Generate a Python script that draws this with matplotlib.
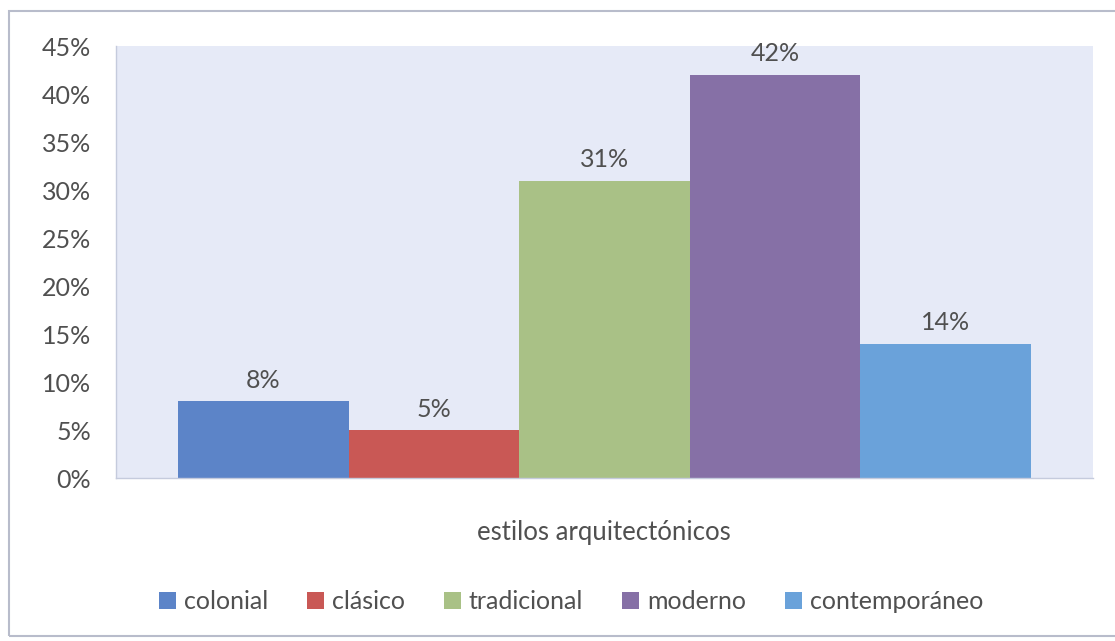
import numpy as np
import matplotlib.pyplot as plt
from matplotlib.patches import Rectangle
from matplotlib.ticker import FuncFormatter

# ==================== datos ====================
estilos = ['colonial', 'clásico', 'tradicional', 'moderno', 'contemporáneo']
porcentajes = [8, 5, 31, 42, 14]
colores = ['#5C84C8', '#C95855', '#A9C186', '#8670A6', '#6AA2DA']
y_ticks = list(range(0, 46, 5))

plt.rcParams['font.family'] = ['Lato', 'DejaVu Sans']
TXT = '#505050'

fig = plt.figure(figsize=(11.15, 6.41), dpi=100)
ax = fig.add_axes([0.104, 0.254, 0.876, 0.674])
ax.set_facecolor('#E6EAF7')

x = np.arange(len(estilos))
bars = ax.bar(x, porcentajes, width=1.0, color=colores, label=estilos, zorder=2)
for b, v in zip(bars, porcentajes):
    ax.text(b.get_x() + b.get_width() / 2, v + 1.0, f"{v}%",
            ha='center', va='bottom', fontsize=18, color=TXT)

pad = 62 / 170.4
ax.set_xlim(-0.5 - pad, len(estilos) - 0.5 + pad)
ax.set_ylim(0, 45)
ax.set_yticks(y_ticks)
ax.yaxis.set_major_formatter(FuncFormatter(lambda v, p: f"{int(v)}%"))
ax.tick_params(axis='y', length=0, pad=18, labelsize=18, labelcolor=TXT)
ax.set_xticks([])
for s in ['top', 'right']:
    ax.spines[s].set_visible(False)
for s in ['left', 'bottom']:
    ax.spines[s].set_color('#C5CBDD')
    ax.spines[s].set_linewidth(1.0)

ax.set_xlabel('estilos arquitectónicos', fontsize=18.5, color=TXT, labelpad=30)

leg = fig.legend(handles=bars, labels=estilos, loc='center', bbox_to_anchor=(0.512, 0.061),
                 ncol=5, frameon=False, fontsize=18, handlelength=0.7, handleheight=0.7,
                 handletextpad=0.3, columnspacing=1.55, labelcolor=TXT)

# borde exterior
fig.patches.append(Rectangle((9 / 1115, 5 / 641), 1.2, 625 / 641, transform=fig.transFigure,
                             fill=False, edgecolor='#B8BCCB', linewidth=1.5))

fig.savefig('out.png', dpi=100)
